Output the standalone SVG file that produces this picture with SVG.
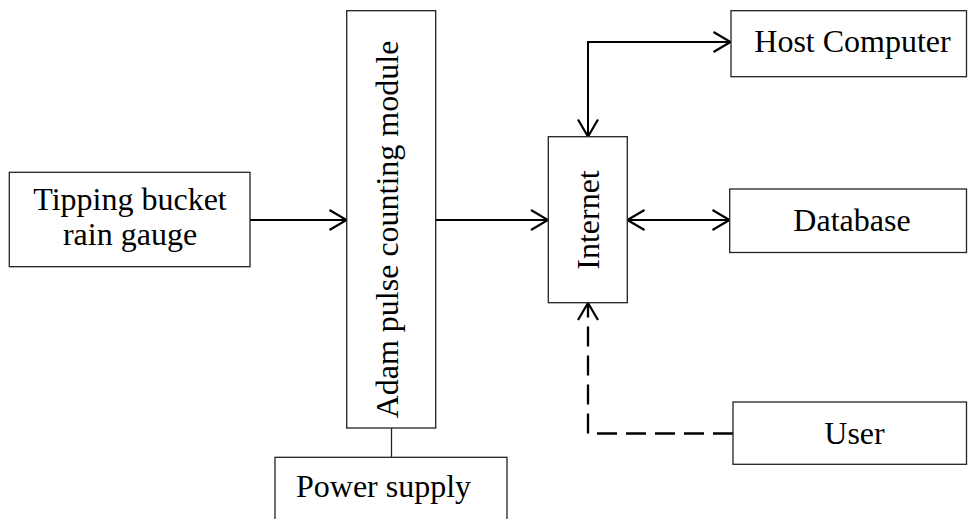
<svg xmlns="http://www.w3.org/2000/svg" width="968" height="519" viewBox="0 0 968 519">
<style>
.box{fill:#fff;stroke:#222;stroke-width:1.3}
.lbl{font-family:"Liberation Serif","Times New Roman",serif;font-size:32px;fill:#000}
.c{text-anchor:middle}
.conn{fill:none;stroke:#000;stroke-width:2}
.dash{stroke-dasharray:20 9;stroke-width:2.3}
</style>
<defs>
<marker id="arr" viewBox="-20 -12 22 24" refX="0" refY="0" markerWidth="22" markerHeight="24" markerUnits="userSpaceOnUse" orient="auto-start-reverse">
<path d="M-17,-10 L0,0 L-17,10" fill="none" stroke="#000" stroke-width="2.2"/>
</marker>
</defs>
<g id="connectors">
<line class="conn" x1="250" y1="220" x2="346.5" y2="220" marker-end="url(#arr)"/>
<line class="conn" x1="436" y1="220" x2="548" y2="220" marker-end="url(#arr)"/>
<polyline class="conn" points="588,136.5 588,42 730.5,42" marker-start="url(#arr)" marker-end="url(#arr)"/>
<line class="conn" x1="627.5" y1="220" x2="729.5" y2="220" marker-start="url(#arr)" marker-end="url(#arr)"/>
<polyline class="conn dash" points="733,433.5 588,433.5 588,303" marker-end="url(#arr)"/>
<line x1="391.5" y1="428" x2="391.5" y2="457.3" stroke="#222" stroke-width="1.3"/>
</g>
<g id="tipping">
<rect class="box" x="9.3" y="172.3" width="240.7" height="94.4"/>
<text class="lbl c" x="130" y="210">Tipping bucket</text>
<text class="lbl c" x="130" y="245">rain gauge</text>
</g>
<g id="adam">
<rect class="box" x="346.7" y="10.7" width="89" height="417.3"/>
<text class="lbl c" transform="translate(397.5,229.5) rotate(-90)">Adam pulse counting module</text>
</g>
<g id="power">
<rect class="box" x="275" y="457.3" width="232" height="70"/>
<text class="lbl" x="296" y="497">Power supply</text>
</g>
<g id="internet">
<rect class="box" x="548.3" y="136.7" width="79" height="166"/>
<text class="lbl c" transform="translate(599,220) rotate(-90)">Internet</text>
</g>
<g id="host">
<rect class="box" x="731" y="10.7" width="235.5" height="66"/>
<text class="lbl c" x="852.5" y="52">Host Computer</text>
</g>
<g id="database">
<rect class="box" x="729.7" y="189" width="236.8" height="63.5"/>
<text class="lbl c" x="852" y="231">Database</text>
</g>
<g id="user">
<rect class="box" x="733" y="402" width="233.5" height="62.3"/>
<text class="lbl c" x="854.5" y="444">User</text>
</g>
</svg>
